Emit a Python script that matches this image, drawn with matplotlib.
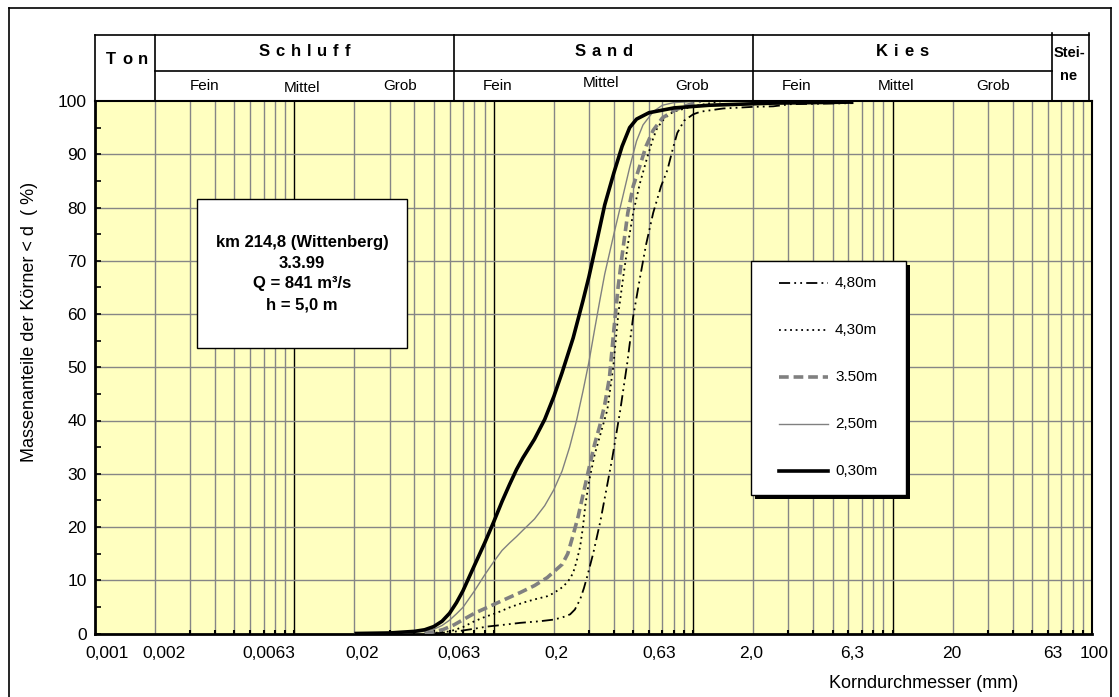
import matplotlib
matplotlib.use("Agg")
import matplotlib.pyplot as plt
from matplotlib.patches import Rectangle
from matplotlib.lines import Line2D
from matplotlib.transforms import offset_copy, ScaledTranslation
import numpy as np

plt.rcParams['font.family'] = ['Liberation Sans', 'DejaVu Sans']
plt.rcParams['lines.scale_dashes'] = False

# ---------------- data ----------------
series_labels = ["4,80m", "4,30m", "3.50m", "2,50m", "0,30m"]

d_480 = [0.05, 0.0655, 0.08, 0.0926, 0.11, 0.1358, 0.17, 0.1987, 0.22, 0.2415, 0.255, 0.271, 0.283,
         0.294, 0.315, 0.342, 0.371, 0.393, 0.431, 0.467, 0.50, 0.542, 0.58, 0.63, 0.69, 0.742,
         0.79, 0.832, 0.9, 1.0, 1.09, 1.415, 2.0, 2.52, 3.07, 6.35]
p_480 = [0, 0.4, 0.9, 1.3, 1.6, 2.0, 2.3, 2.6, 3.0, 3.6, 4.5, 6.4, 8.5,
         10.7, 15.0, 21, 28, 33, 42, 50.8, 59.5, 67, 73, 79, 84, 87,
         91, 94, 96.3, 97.5, 98, 98.6, 98.9, 99, 99.4, 99.6]

d_430 = [0.045, 0.05, 0.0604, 0.07, 0.0789, 0.09, 0.104, 0.12, 0.1406, 0.16, 0.1854, 0.2, 0.223,
         0.24, 0.25, 0.26, 0.271, 0.28, 0.2875, 0.3, 0.32, 0.34, 0.371, 0.397, 0.421, 0.446, 0.47,
         0.5, 0.54, 0.589, 0.63, 0.661, 0.72, 0.795, 1.0, 1.4]
p_430 = [0, 0.1, 0.4, 1.2, 2.2, 3.1, 3.9, 4.9, 5.8, 6.4, 7.0, 7.6, 8.8,
         10.2, 11.4, 13.5, 16.3, 20, 24, 28.5, 33.5, 37, 42, 50, 60, 67, 73,
         79, 84.5, 89.5, 93, 95, 96.8, 98, 99, 100]

d_350 = [0.045, 0.05, 0.0557, 0.063, 0.0702, 0.08, 0.0993, 0.12, 0.1358, 0.16, 0.1854, 0.2, 0.2204,
         0.235, 0.25, 0.265, 0.28, 0.3, 0.32, 0.34, 0.36, 0.38, 0.40, 0.42, 0.44, 0.47, 0.5,
         0.542, 0.58, 0.63, 0.7, 0.8, 0.9, 1.09]
p_350 = [0, 0.3, 0.75, 1.6, 2.6, 3.8, 5.4, 6.8, 7.7, 9.0, 10.5, 11.6, 13,
         15, 18.5, 22, 26, 31, 35.5, 39, 43, 48, 57, 65, 71, 79, 84,
         88, 91.5, 94.5, 96.8, 98.2, 99, 100]

d_250 = [0.02, 0.035, 0.045, 0.05, 0.055, 0.06, 0.065, 0.07, 0.08, 0.09, 0.1, 0.11, 0.12, 0.13,
         0.14, 0.16, 0.18, 0.2, 0.22, 0.24, 0.26, 0.28, 0.3, 0.32, 0.34, 0.36, 0.4, 0.44, 0.48,
         0.52, 0.56, 0.63, 0.7, 0.8, 1.09]
p_250 = [0, 0.1, 0.4, 0.8, 1.5, 2.5, 3.7, 4.9, 8.0, 11.0, 13.5, 15.6, 17.0, 18.2,
         19.4, 21.5, 24, 27, 30.5, 35, 40, 45.5, 51, 57, 62.5, 67.5, 75, 81.5, 87.5,
         92.5, 95.5, 98, 99.2, 99.7, 100]

d_030 = [0.02, 0.03, 0.04, 0.045, 0.05, 0.055, 0.06, 0.065, 0.07, 0.08, 0.09, 0.1, 0.11, 0.12,
         0.13, 0.14, 0.16, 0.18, 0.2, 0.22, 0.25, 0.28, 0.3, 0.33, 0.36, 0.4, 0.44, 0.48, 0.52,
         0.6, 0.8, 1.2, 2.5, 6.35]
p_030 = [0, 0.1, 0.4, 0.7, 1.3, 2.3, 3.8, 5.8, 8.0, 12.8, 17.0, 21, 24.8, 28,
         30.8, 33, 36.5, 40.2, 44.5, 49, 55.5, 62.5, 67, 74, 80.5, 86.5, 91.5, 95, 96.6,
         97.8, 98.7, 99.2, 99.6, 99.8]

x_tick_vals = [0.001, 0.002, 0.0063, 0.02, 0.063, 0.2, 0.63, 2.0, 6.3, 20, 63, 100]
x_tick_labels = ["0,001", "0,002", "0,0063", "0,02", "0,063", "0,2", "0,63", "2,0", "6,3", "20", "63", "100"]
y_tick_vals = list(range(0, 101, 10))

main_classes = ["Ton", "Schluff", "Sand", "Kies"]
class_bounds = [0.001, 0.002, 0.063, 2.0, 63]
sub_labels = ["Fein", "Mittel", "Grob"]
info_text = "km 214,8 (Wittenberg)\n3.3.99\nQ = 841 m³/s\nh = 5,0 m"

styles = {
    "4,80m": dict(color="black", lw=1.3, ls=(0, (8, 3, 1.3, 3, 1.3, 3))),
    "4,30m": dict(color="black", lw=1.3, ls=(0, (1.3, 2.7))),
    "3.50m": dict(color="#808080", lw=2.6, ls=(0, (7, 3.5))),
    "2,50m": dict(color="#808080", lw=1.0, ls="-"),
    "0,30m": dict(color="black", lw=2.6, ls="-"),
}
series_data = {
    "4,80m": (d_480, p_480),
    "4,30m": (d_430, p_430),
    "3.50m": (d_350, p_350),
    "2,50m": (d_250, p_250),
    "0,30m": (d_030, p_030),
}

# ---------------- figure ----------------
W, H = 1119, 697
fig = plt.figure(figsize=(W / 100, H / 100), dpi=100)
fig.patch.set_facecolor("white")

L, R, T, B = 95, 1092, 101, 633.5
ax = fig.add_axes([L / W, 1 - B / H, (R - L) / W, (B - T) / H])
ax.set_xscale("log")
ax.set_xlim(0.001, 100)
ax.set_ylim(0, 100)
ax.set_facecolor("#FFFFC0")

# grid
decades = [0.01, 0.1, 1, 10]
minor_pos = [m * 10.0 ** e for e in range(-3, 2) for m in range(2, 10)]
for xv in minor_pos:
    ax.axvline(xv, color="#868686", lw=1.0, zorder=1)
for xv in decades:
    ax.axvline(xv, color="black", lw=1.0, zorder=1)
for yv in range(10, 100, 10):
    ax.axhline(yv, color="#868686", lw=1.0, zorder=1)

for lab in series_labels:
    dd, pp = series_data[lab]
    st = styles[lab]
    ax.plot(dd, pp, color=st["color"], lw=st["lw"], linestyle=st["ls"], zorder=3,
            solid_joinstyle="round", solid_capstyle="butt", dash_joinstyle="round")

ax.set_xticks(x_tick_vals)
ax.set_xticklabels(x_tick_labels, fontsize=12.5)
ax.set_xticks(minor_pos + decades, minor=True)
ax.tick_params(axis="x", which="major", length=0, pad=9)
ax.tick_params(axis="x", which="minor", direction="in", length=3, width=1.5, color="black")
ax.xaxis.set_minor_formatter(plt.NullFormatter())
label_dx = [12, 9, 14, 8, 5, 3, 6, -2, 0, -1, 1, 2]
for tl, dx in zip(ax.get_xticklabels(), label_dx):
    tl.set_transform(tl.get_transform() + ScaledTranslation(dx / 100, 0, fig.dpi_scale_trans))
ax.set_yticks(y_tick_vals)
ax.set_yticklabels([str(v) for v in y_tick_vals], fontsize=12.5)
ax.set_yticks(list(range(5, 100, 10)), minor=True)
ax.tick_params(axis="y", which="both", direction="in", length=4, width=1.2, color="black", pad=6)

for s in ["left", "bottom"]:
    ax.spines[s].set_linewidth(2.0)
for s in ["top", "right"]:
    ax.spines[s].set_linewidth(1.5)

# info box
bx0, bx1 = (197 - L) / (R - L), (407 - L) / (R - L)
by0, by1 = (B - 348) / (B - T), (B - 199) / (B - T)
ax.add_patch(Rectangle((bx0, by0), bx1 - bx0, by1 - by0, transform=ax.transAxes,
                       facecolor="white", edgecolor="black", lw=1.0, zorder=5))
ax.text((bx0 + bx1) / 2, (by0 + by1) / 2, info_text, transform=ax.transAxes,
        ha="center", va="center", fontsize=12, fontweight="bold", linespacing=1.48, zorder=6)

# legend (manual)
lx0, lx1 = (751 - L) / (R - L), (906 - L) / (R - L)
ly0, ly1 = (B - 495) / (B - T), (B - 261) / (B - T)
sh = 4 / (R - L), 4 / (B - T)
ax.add_patch(Rectangle((lx0 + sh[0], ly0 - sh[1]), lx1 - lx0, ly1 - ly0, transform=ax.transAxes,
                       facecolor="black", edgecolor="black", lw=0, zorder=5))
ax.add_patch(Rectangle((lx0, ly0), lx1 - lx0, ly1 - ly0, transform=ax.transAxes,
                       facecolor="white", edgecolor="black", lw=1.0, zorder=6))
entry_y = [283, 330, 377, 424, 471]
for lab, yp in zip(series_labels, entry_y):
    st = styles[lab]
    yy = (B - yp) / (B - T)
    ax.add_line(Line2D([(779 - L) / (R - L), (828 - L) / (R - L)], [yy, yy], transform=ax.transAxes,
                       color=st["color"], lw=st["lw"], linestyle=st["ls"], zorder=7))
    ax.text((835 - L) / (R - L), yy, lab, transform=ax.transAxes, ha="left", va="center",
            fontsize=11, zorder=7)

# header table
HT = 35
hax = fig.add_axes([L / W, 1 - T / H, (R - L) / W, (T - HT) / H])
hax.set_xscale("log")
hax.set_xlim(0.001, 100)
hax.set_ylim(0, 1)
hax.axis("off")
hr = 97.0
ymid = (T - 71) / (T - HT)
kw = dict(color="black", lw=1.2, clip_on=False)
hax.plot([0.001, hr], [1, 1], **kw)
hax.plot([0.001, hr], [0, 0], **kw)
hax.plot([0.001, 0.001], [0, 1], **kw)
hax.plot([hr, hr], [0, 1.03], **kw)
hax.plot([0.002, 63], [ymid, ymid], **kw)
for xb in [0.002, 0.063, 2.0]:
    hax.plot([xb, xb], [0, 1], **kw)
hax.plot([63, 63], [0, 1.03], **kw)


def yfr(ypix):
    return (T - ypix) / (T - HT)


def px2d(xp):
    return 10 ** (-3 + (xp - L) / ((R - L) / 5))


bold_w = {"S": .667, "c": .556, "h": .611, "l": .278, "u": .611, "f": .333, "a": .556,
          "n": .611, "d": .611, "K": .722, "i": .278, "e": .556, "s": .556, "T": .611, "o": .611}


def spaced(axh, xd, y, word, size=12, gap=0.35):
    widths = [bold_w.get(c, .6) for c in word]
    total = (sum(widths) + gap * (len(word) - 1)) * size
    off = -total / 2
    for c, w in zip(word, widths):
        tr = offset_copy(axh.transData, fig=fig, x=off, y=0, units="points")
        axh.text(xd, y, c, transform=tr, ha="left", va="center", fontsize=size, fontweight="bold")
        off += (w + gap) * size


spaced(hax, px2d(127), yfr(59), main_classes[0])
for i in range(1, 4):
    lo, hi = class_bounds[i], class_bounds[i + 1]
    spaced(hax, np.sqrt(lo * hi), yfr(52), main_classes[i])
sub_x = [[205, 302, 400], [498, 601, 692], [797, 896, 993]]
sub_yoff = [[86, 88, 86], [86, 83, 86], [86, 86, 86]]
for row_x, row_y in zip(sub_x, sub_yoff):
    for sl, xp, yp in zip(sub_labels, row_x, row_y):
        hax.text(px2d(xp), yfr(yp), sl, ha="center", va="center", fontsize=11)
xs = px2d(1069)
hax.text(xs, yfr(53), "Stei-", ha="center", va="center", fontsize=10.5, fontweight="bold")
hax.text(xs, yfr(76), "ne", ha="center", va="center", fontsize=10.5, fontweight="bold")

# axis titles
fig.text(924 / W, 1 - 683 / H, "Korndurchmesser (mm)", ha="center", va="center", fontsize=13)
fig.text(30 / W, 1 - 322 / H, "Massenanteile der Körner < d  ( %)", ha="center", va="center",
         rotation=90, fontsize=13)

# outer frame
fkw = dict(color="black", lw=1.2, transform=fig.transFigure)
fig.add_artist(Line2D([9 / W, 1111 / W], [1 - 7.5 / H, 1 - 7.5 / H], **fkw))
fig.add_artist(Line2D([9 / W, 9 / W], [0, 1 - 7.5 / H], **fkw))
fig.add_artist(Line2D([1111 / W, 1111 / W], [0, 1 - 7.5 / H], **fkw))

fig.savefig("out.png", dpi=100, facecolor="white")
